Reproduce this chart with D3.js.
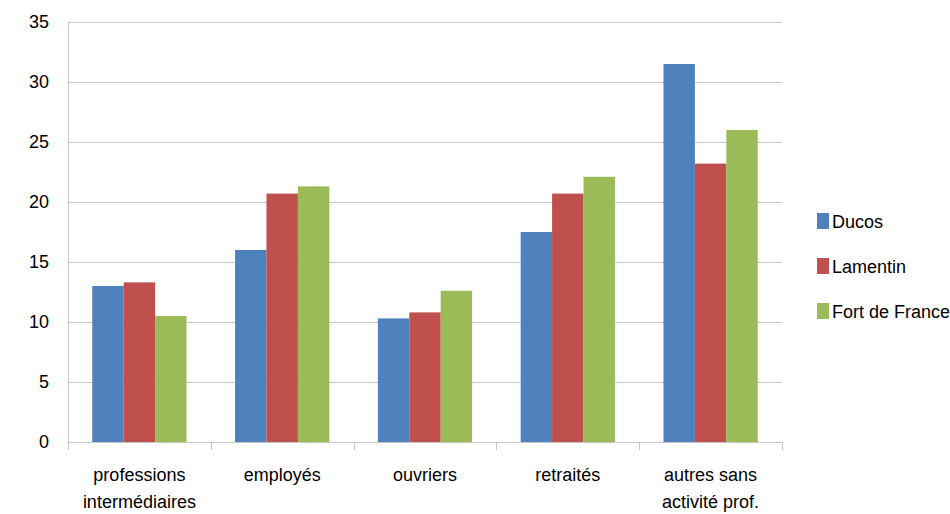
<!DOCTYPE html>
<html>
<head>
<meta charset="utf-8">
<script src="https://cdn.jsdelivr.net/npm/d3@7"></script>
<style>
  body { margin: 0; background: #fff; }
  text { font-family: "Liberation Sans", Arial, sans-serif; fill: #000; }
</style>
</head>
<body>
<svg id="chart" width="950" height="514"></svg>
<script>
const categories = ['professions intermédiaires', 'employés', 'ouvriers', 'retraités', 'autres sans activité prof.'];
const categoryLines = [['professions', 'intermédiaires'], ['employés'], ['ouvriers'], ['retraités'], ['autres sans', 'activité prof.']];
const seriesNames = ['Ducos', 'Lamentin', 'Fort de France'];
const ducos = [13.0, 16.0, 10.3, 17.5, 31.5];
const lamentin = [13.3, 20.7, 10.8, 20.7, 23.2];
const fortDeFrance = [10.5, 21.3, 12.6, 22.1, 26.0];
const yTicks = [0, 5, 10, 15, 20, 25, 30, 35];

const seriesValues = [ducos, lamentin, fortDeFrance];
const colors = d3.scaleOrdinal().domain(seriesNames).range(['#4F81BD', '#C0504D', '#9BBB59']);

const svg = d3.select('#chart');
const plotLeft = 68, plotRight = 782, plotTop = 22, plotBottom = 442;

const x0 = d3.scaleBand().domain(categories).range([plotLeft, plotRight]).paddingInner(0.34).paddingOuter(0.17);
const x1 = d3.scaleBand().domain(seriesNames).range([0, x0.bandwidth()]);
const y = d3.scaleLinear().domain([0, 35]).range([plotBottom, plotTop]);

// gridlines
svg.append('g')
  .selectAll('line')
  .data(yTicks)
  .join('line')
  .attr('x1', plotLeft).attr('x2', plotRight)
  .attr('y1', d => y(d) + 0.5).attr('y2', d => y(d) + 0.5)
  .attr('stroke', '#c6c6c6');

// left axis line
svg.append('line')
  .attr('x1', plotLeft + 0.5).attr('x2', plotLeft + 0.5)
  .attr('y1', plotTop).attr('y2', plotBottom)
  .attr('stroke', '#c6c6c6');

// y tick labels
svg.append('g')
  .selectAll('text')
  .data(yTicks)
  .join('text')
  .attr('x', 49)
  .attr('y', d => y(d))
  .attr('dy', '0.35em')
  .attr('text-anchor', 'end')
  .style('font-size', '18px')
  .text(d => d);

// x category tick marks
const step = x0.step();
svg.append('g')
  .selectAll('line')
  .data(d3.range(categories.length + 1))
  .join('line')
  .attr('x1', i => Math.round(plotLeft + i * step) + 0.5)
  .attr('x2', i => Math.round(plotLeft + i * step) + 0.5)
  .attr('y1', plotBottom).attr('y2', plotBottom + 8)
  .attr('stroke', '#c6c6c6');

// bars
const groups = svg.append('g')
  .selectAll('g')
  .data(categories)
  .join('g')
  .attr('transform', d => `translate(${x0(d)},0)`);

groups.selectAll('rect')
  .data((c, i) => seriesNames.map((s, j) => ({ s, v: seriesValues[j][i] })))
  .join('rect')
  .attr('x', d => x1(d.s))
  .attr('width', x1.bandwidth())
  .attr('y', d => y(d.v))
  .attr('height', d => y(0) - y(d.v))
  .attr('fill', d => colors(d.s));

// x category labels
svg.append('g')
  .selectAll('text')
  .data(categories)
  .join('text')
  .attr('x', d => x0(d) + x0.bandwidth() / 2)
  .attr('y', 481)
  .attr('text-anchor', 'middle')
  .style('font-size', '18px')
  .each(function (d, i) {
    const t = d3.select(this);
    categoryLines[i].forEach((line, k) => {
      t.append('tspan')
        .attr('x', x0(d) + x0.bandwidth() / 2)
        .attr('dy', k === 0 ? 0 : 27)
        .text(line);
    });
  });

// legend
const legend = svg.append('g')
  .selectAll('g')
  .data(seriesNames)
  .join('g')
  .attr('transform', (d, i) => `translate(817,${213 + i * 45})`);

legend.append('rect')
  .attr('width', 12).attr('height', 16)
  .attr('fill', d => colors(d));

legend.append('text')
  .attr('x', 15).attr('y', 15)
  .style('font-size', '18px')
  .text(d => d);
</script>
</body>
</html>
